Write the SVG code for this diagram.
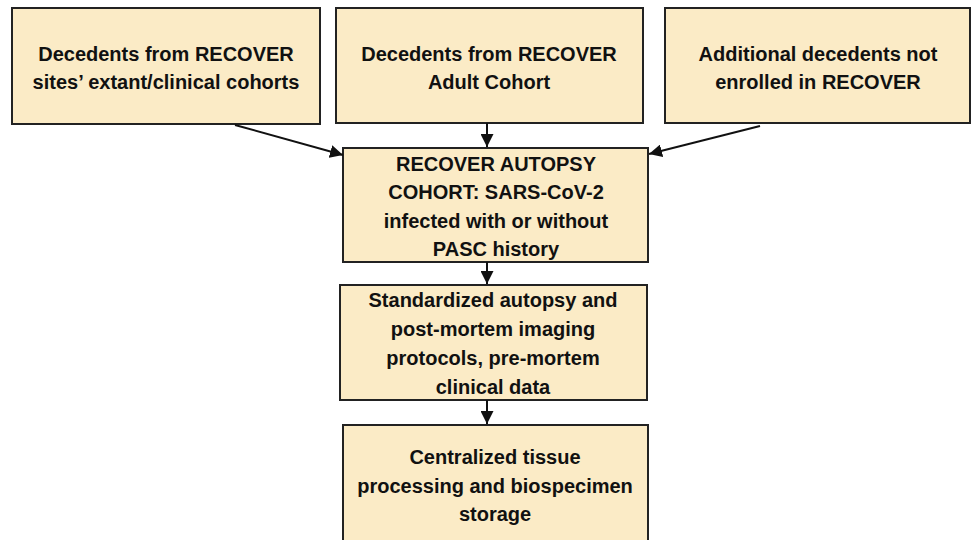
<svg xmlns="http://www.w3.org/2000/svg" width="971" height="540" viewBox="0 0 971 540">
<style>
.box{fill:#FBEBC6;stroke:#222;stroke-width:2}
.t{font-family:"Liberation Sans",Arial,sans-serif;font-weight:bold;font-size:20px;fill:#111;text-anchor:middle}
.c{stroke:#111;stroke-width:2;fill:none;marker-end:url(#ah)}
</style>
<defs>
<marker id="ah" viewBox="0 0 10 10" refX="10" refY="5" markerWidth="6.5" markerHeight="6.5" markerUnits="strokeWidth" orient="auto">
<path d="M0,0 L10,5 L0,10 z" fill="#111"/>
</marker>
</defs>
<rect width="971" height="540" fill="#fff"/>
<g id="n1"><rect class="box" x="12" y="8" width="308" height="116"/>
<text class="t" x="166" y="61">Decedents from RECOVER</text>
<text class="t" x="166" y="89">sites’ extant/clinical cohorts</text></g>
<g id="n2"><rect class="box" x="336" y="8" width="307" height="115"/>
<text class="t" x="489" y="61">Decedents from RECOVER</text>
<text class="t" x="489" y="89">Adult Cohort</text></g>
<g id="n3"><rect class="box" x="665" y="8" width="305" height="115"/>
<text class="t" x="818" y="61">Additional decedents not</text>
<text class="t" x="818" y="89">enrolled in RECOVER</text></g>
<g id="n4"><rect class="box" x="343" y="148" width="305" height="114"/>
<text class="t" x="496" y="171">RECOVER AUTOPSY</text>
<text class="t" x="496" y="199">COHORT: SARS-CoV-2</text>
<text class="t" x="496" y="228">infected with or without</text>
<text class="t" x="496" y="256">PASC history</text></g>
<g id="n5"><rect class="box" x="340" y="285" width="307" height="115"/>
<text class="t" x="493" y="307">Standardized autopsy and</text>
<text class="t" x="493" y="336">post-mortem imaging</text>
<text class="t" x="493" y="365">protocols, pre-mortem</text>
<text class="t" x="493" y="394">clinical data</text></g>
<g id="n6"><rect class="box" x="343" y="425" width="305" height="125"/>
<text class="t" x="495" y="464">Centralized tissue</text>
<text class="t" x="495" y="493">processing and biospecimen</text>
<text class="t" x="495" y="521">storage</text></g>
<g id="connectors">
<line class="c" x1="235" y1="125" x2="343" y2="155"/>
<line class="c" x1="487" y1="123" x2="487" y2="147"/>
<line class="c" x1="760" y1="126" x2="649" y2="154"/>
<line class="c" x1="487" y1="262" x2="487" y2="284"/>
<line class="c" x1="487" y1="400" x2="487" y2="424"/>
</g>
</svg>
